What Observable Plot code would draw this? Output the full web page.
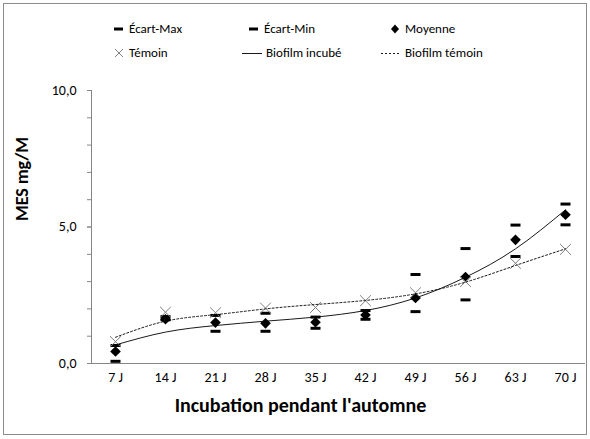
<!DOCTYPE html>
<html><head><meta charset="utf-8">
<script src="https://cdn.jsdelivr.net/npm/d3@7"></script>
<script src="https://cdn.jsdelivr.net/npm/@observablehq/plot@0.6"></script>
<style>
body{margin:0;background:#fff;}
#wrap{position:relative;width:590px;height:439px;font-family:Carlito,"Liberation Sans Narrow",Lato,"Open Sans",sans-serif;color:#000;}
#border{position:absolute;left:3px;top:3px;width:584px;height:432px;border:1px solid #8c8c8c;box-sizing:border-box;pointer-events:none;}
#chart{position:absolute;left:0;top:0;}
.lg{position:absolute;font-size:13px;line-height:16px;white-space:nowrap;display:flex;align-items:center;}
.lg svg{margin-right:4px;}
</style></head>
<body>
<div id="wrap">
  <div id="chart"></div>
  <div id="legend"></div>
  <div id="border"></div>
</div>
<script>
const cats = ["7 J","14 J","21 J","28 J","35 J","42 J","49 J","56 J","63 J","70 J"];
const ecartMax = [0.66,1.72,1.76,1.84,1.70,1.94,3.26,4.21,5.07,5.84];
const ecartMin = [0.08,1.60,1.18,1.18,1.29,1.62,1.90,2.33,3.92,5.08];
const moyenne  = [0.44,1.62,1.50,1.47,1.51,1.78,2.40,3.17,4.53,5.45];
const temoin   = [0.80,1.88,1.86,2.03,2.05,2.30,2.59,3.00,3.67,4.18];
const trendIncube = [0.68,1.15,1.39,1.55,1.70,1.94,2.40,3.16,4.20,5.63];
const trendTemoin = [0.96,1.55,1.79,2.00,2.16,2.31,2.55,2.98,3.59,4.20];
const yTicks = [0,5,10];
const yMinor = [0,1,2,3,4,5,6,7,8,9,10];
const legendLabels = ["Écart-Max","Écart-Min","Moyenne","Témoin","Biofilm incubé","Biofilm témoin"];

const table = cats.map((c,i)=>({cat:c, max:ecartMax[i], min:ecartMin[i], moy:moyenne[i], tem:temoin[i], ti:trendIncube[i], tt:trendTemoin[i]}));

const dash = {draw(ctx){ ctx.moveTo(-5,-1.5); ctx.lineTo(5,-1.5); ctx.lineTo(5,1.5); ctx.lineTo(-5,1.5); ctx.closePath(); }};
const fmt = d => d.toFixed(1).replace(".", ",");
const font = 'Carlito,"Liberation Sans Narrow",Lato,"Open Sans",sans-serif';

const chart = Plot.plot({
  width: 590, height: 439,
  marginLeft: 91, marginRight: 5, marginTop: 90, marginBottom: 76,
  style: {fontFamily: font, fontSize: "14px", background: "transparent", color: "#000"},
  x: {type: "point", domain: cats, range: [115, 565], padding: 0, axis: null},
  y: {domain: [0, 10], axis: null, label: null},
  marks: [
    Plot.axisY(yMinor, {tickSize: 4, tickFormat: () => "", stroke: "#868686", label: null}),
    Plot.axisY(yTicks, {tickSize: 4, tickPadding: 11, tickFormat: fmt, stroke: "#868686", fill: "#000", fontSize: 14, label: null}),
    Plot.axisX({tickSize: 0, tickPadding: 9, fontSize: 14, fill: "#000", label: null}),
    Plot.ruleY([0], {stroke: "#868686"}),
    Plot.text(["MES mg/M"], {frameAnchor: "left", dx: -69, dy: -6, rotate: -90, fontWeight: "bold", fontSize: 18, fill: "#000"}),
    Plot.text(["Incubation pendant l'automne"], {frameAnchor: "bottom", dx: -38, dy: 48, fontWeight: "bold", fontSize: 20, fill: "#000"}),
    Plot.dot(table, {x: "cat", y: "max", symbol: dash, fill: "#000", stroke: "none", r: 5}),
    Plot.dot(table, {x: "cat", y: "min", symbol: dash, fill: "#000", stroke: "none", r: 5}),
    Plot.dot(table, {x: "cat", y: "moy", symbol: "diamond2", fill: "#000", stroke: "none", r: 4.8}),
    Plot.dot(table, {x: "cat", y: "tem", symbol: "times", stroke: "#7f7f7f", strokeWidth: 1, r: 5}),
    Plot.line(table, {x: "cat", y: "ti", curve: "natural", stroke: "#000", strokeWidth: 0.9}),
    Plot.line(table, {x: "cat", y: "tt", curve: "natural", stroke: "#000", strokeWidth: 0.9, strokeDasharray: "2,2"})
  ]
});
document.getElementById("chart").appendChild(chart);
// y axis line
d3.select(chart).append("line").attr("x1", 91.5).attr("x2", 91.5).attr("y1", 90).attr("y2", 363).attr("stroke", "#868686");

// legend
const sym = {
  dash: '<svg width="12" height="12"><rect x="1" y="4.5" width="9" height="3" fill="#000"/></svg>',
  diamond: '<svg width="12" height="12"><path d="M6 1.5 L10 6 L6 10.5 L2 6Z" fill="#000"/></svg>',
  times: '<svg width="12" height="12"><path d="M2 2L10 10M10 2L2 10" stroke="#7f7f7f" stroke-width="1"/></svg>',
  solid: '<svg width="20" height="12"><line x1="0" x2="20" y1="6.5" y2="6.5" stroke="#000" stroke-width="0.9"/></svg>',
  dotted: '<svg width="20" height="12"><line x1="0" x2="20" y1="6.5" y2="6.5" stroke="#000" stroke-width="0.9" stroke-dasharray="2,2"/></svg>'
};
const items = [
  [sym.dash, legendLabels[0], 113, 21],
  [sym.dash, legendLabels[1], 248, 21],
  [sym.diamond, legendLabels[2], 389, 21],
  [sym.times, legendLabels[3], 113, 45],
  [sym.solid, legendLabels[4], 242, 45],
  [sym.dotted, legendLabels[5], 381, 45]
];
const lg = document.getElementById("legend");
for (const [s, t, x, y] of items) {
  const d = document.createElement("div");
  d.className = "lg";
  d.style.left = x + "px"; d.style.top = y + "px";
  d.innerHTML = s + "<span>" + t + "</span>";
  lg.appendChild(d);
}
</script>
</body></html>
